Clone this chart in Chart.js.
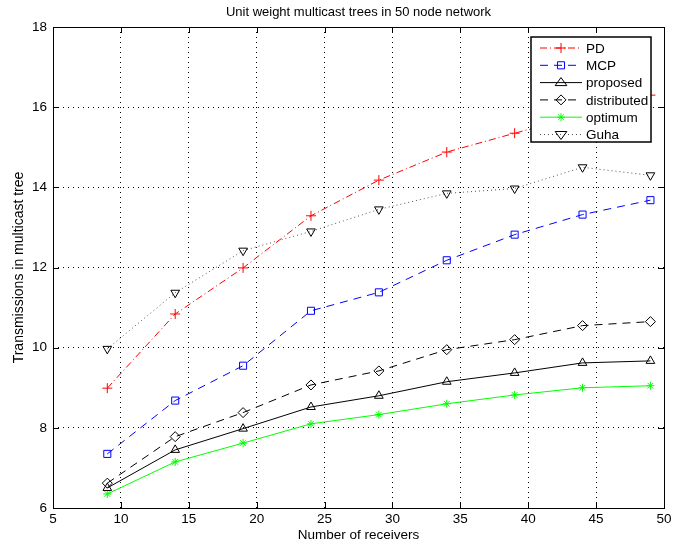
<!DOCTYPE html>
<html>
<head>
<meta charset="utf-8">
<script src="https://cdn.jsdelivr.net/npm/chart.js@4/dist/chart.umd.min.js"></script>
<style>
  html, body { margin: 0; padding: 0; background: #fff; }
  #wrap { width: 681px; height: 543px; }
</style>
</head>
<body>
<div id="wrap"><canvas id="myChart" width="681" height="543"></canvas></div>
<script>
// receivers on the x axis
const receivers = [9, 14, 19, 24, 29, 34, 39, 44, 49];

// transmissions per method
const pd          = [8.99, 10.84, 11.99, 13.29, 14.18, 14.88, 15.35, 15.8, 16.3];
const mcp         = [7.35, 8.68, 9.55, 10.92, 11.38, 12.18, 12.82, 13.32, 13.68];
const proposed    = [6.5, 7.45, 7.98, 8.52, 8.8, 9.15, 9.37, 9.62, 9.67];
const distributed = [6.62, 7.78, 8.38, 9.07, 9.42, 9.95, 10.2, 10.55, 10.65];
const optimum     = [6.35, 7.15, 7.62, 8.1, 8.33, 8.6, 8.82, 9.0, 9.05];
const guha        = [9.97, 11.37, 12.42, 12.9, 13.45, 13.85, 13.97, 14.5, 14.3];

const xTicks = [5, 10, 15, 20, 25, 30, 35, 40, 45, 50];
const yTicks = [6, 8, 10, 12, 14, 16, 18];

const FONT = 'Liberation Sans, Arial, Helvetica, sans-serif';

const toPoints = (vals) => vals.map((v, i) => ({ x: receivers[i], y: v }));

function series(label, vals, color, dash, style, radius, rotation) {
  return {
    label,
    data: toPoints(vals),
    borderColor: color,
    backgroundColor: 'rgba(0,0,0,0)',
    borderWidth: 1,
    borderDash: dash,
    pointStyle: style,
    pointRadius: radius,
    pointRotation: rotation || 0,
    pointBorderColor: color,
    pointBackgroundColor: 'rgba(0,0,0,0)',
    pointBorderWidth: 1,
    tension: 0,
    fill: false,
  };
}

const datasets = [
  series('PD', pd, '#ff0000', [7, 3, 1, 3], 'cross', 5),
  series('MCP', mcp, '#0000ff', [8, 6], 'rect', 5),
  series('proposed', proposed, '#000000', [], 'triangle', 5),
  series('distributed', distributed, '#000000', [8, 6], 'rectRot', 5),
  series('optimum', optimum, '#00ff00', [], 'star', 4),
  series('Guha', guha, '#555555', [1, 3], 'triangle', 5, 180),
];
// Guha markers are black, dotted line grey
datasets[5].pointBorderColor = '#000000';

// small marker shapes for the legend samples
function drawMarker(ctx, style, x, y, r, rot, color) {
  ctx.save();
  ctx.strokeStyle = color;
  ctx.lineWidth = 1;
  ctx.setLineDash([]);
  ctx.translate(x, y);
  ctx.rotate((rot || 0) * Math.PI / 180);
  ctx.beginPath();
  if (style === 'cross') {
    ctx.moveTo(-r, 0); ctx.lineTo(r, 0);
    ctx.moveTo(0, -r); ctx.lineTo(0, r);
  } else if (style === 'rect') {
    const s = r * Math.SQRT1_2;
    ctx.rect(-s, -s, 2 * s, 2 * s);
  } else if (style === 'rectRot') {
    ctx.moveTo(0, -r); ctx.lineTo(r, 0); ctx.lineTo(0, r); ctx.lineTo(-r, 0); ctx.closePath();
  } else if (style === 'triangle') {
    const w = r * Math.sqrt(3) / 2;
    ctx.moveTo(0, -r); ctx.lineTo(w + 0.3 * r, r * 0.6); ctx.lineTo(-w - 0.3 * r, r * 0.6); ctx.closePath();
  } else if (style === 'star') {
    for (let k = 0; k < 4; k++) {
      const a = k * Math.PI / 4;
      ctx.moveTo(-r * Math.cos(a), -r * Math.sin(a));
      ctx.lineTo(r * Math.cos(a), r * Math.sin(a));
    }
  }
  ctx.stroke();
  ctx.restore();
}

// frame, inward ticks, title and the boxed legend inside the plot
const matlabLook = {
  id: 'matlabLook',
  afterDraw(chart) {
    const { ctx, chartArea: a, scales } = chart;
    ctx.save();
    ctx.setLineDash([]);
    ctx.strokeStyle = '#000';
    ctx.lineWidth = 1;
    ctx.strokeRect(a.left + 0.5, a.top + 0.5, a.right - a.left, a.bottom - a.top);
    ctx.beginPath();
    xTicks.forEach((t) => {
      const px = Math.round(scales.x.getPixelForValue(t)) + 0.5;
      ctx.moveTo(px, a.bottom); ctx.lineTo(px, a.bottom - 6);
      ctx.moveTo(px, a.top); ctx.lineTo(px, a.top + 6);
    });
    yTicks.forEach((t) => {
      const py = Math.round(scales.y.getPixelForValue(t)) + 0.5;
      ctx.moveTo(a.left, py); ctx.lineTo(a.left + 6, py);
      ctx.moveTo(a.right, py); ctx.lineTo(a.right - 6, py);
    });
    ctx.stroke();

    ctx.fillStyle = '#000';
    ctx.font = '13px ' + FONT;
    ctx.textAlign = 'center';
    ctx.textBaseline = 'middle';
    ctx.fillText('Unit weight multicast trees in 50 node network', (a.left + a.right) / 2, 12);

    // legend box
    const bx = 531, by = 37, bw = 120, bh = 105;
    ctx.fillStyle = '#fff';
    ctx.fillRect(bx, by, bw, bh);
    ctx.lineWidth = 1.5;
    ctx.strokeRect(bx, by, bw, bh);
    ctx.font = '13.5px ' + FONT;
    ctx.textAlign = 'left';
    chart.data.datasets.forEach((ds, i) => {
      const y = by + 11 + i * 17.3;
      ctx.save();
      ctx.strokeStyle = ds.borderColor;
      ctx.lineWidth = 1;
      ctx.setLineDash(ds.borderDash);
      ctx.beginPath();
      ctx.moveTo(540, y); ctx.lineTo(582, y);
      ctx.stroke();
      ctx.restore();
      drawMarker(ctx, ds.pointStyle, 561, y, ds.pointRadius, ds.pointRotation, ds.pointBorderColor);
      ctx.fillStyle = '#000';
      ctx.fillText(ds.label, 586, y + 1);
    });
    ctx.restore();
  },
};

const chart = new Chart(document.getElementById('myChart').getContext('2d'), {
  type: 'line',
  data: { datasets },
  options: {
    animation: false,
    responsive: false,
    devicePixelRatio: 1,
    layout: { padding: { top: 27, right: 17, left: 0, bottom: 0 } },
    plugins: {
      legend: { display: false },
      title: { display: false },
      tooltip: { enabled: false },
    },
    scales: {
      x: {
        type: 'linear',
        min: 5,
        max: 50,
        afterBuildTicks: (s) => { s.ticks = xTicks.map((v) => ({ value: v })); },
        afterFit: (s) => { s.height = 35; },
        ticks: { color: '#000', font: { family: FONT, size: 13.5 }, padding: 3, maxRotation: 0 },
        grid: { color: '#000', lineWidth: 1, drawTicks: false },
        border: { display: false, dash: [1, 4] },
        title: { display: true, text: 'Number of receivers', color: '#000', font: { family: FONT, size: 13.5 }, padding: { top: 0, bottom: 0 } },
      },
      y: {
        type: 'linear',
        min: 6,
        max: 18,
        afterBuildTicks: (s) => { s.ticks = yTicks.map((v) => ({ value: v })); },
        afterFit: (s) => { s.width = 53; },
        ticks: { color: '#000', font: { family: FONT, size: 13.5 }, padding: 6 },
        grid: { color: '#000', lineWidth: 1, drawTicks: false },
        border: { display: false, dash: [1, 4] },
        title: { display: true, text: 'Transmissions in multicast tree', color: '#000', font: { family: FONT, size: 14 }, padding: { top: 11, bottom: 0 } },
      },
    },
  },
  plugins: [matlabLook],
});
</script>
</body>
</html>
